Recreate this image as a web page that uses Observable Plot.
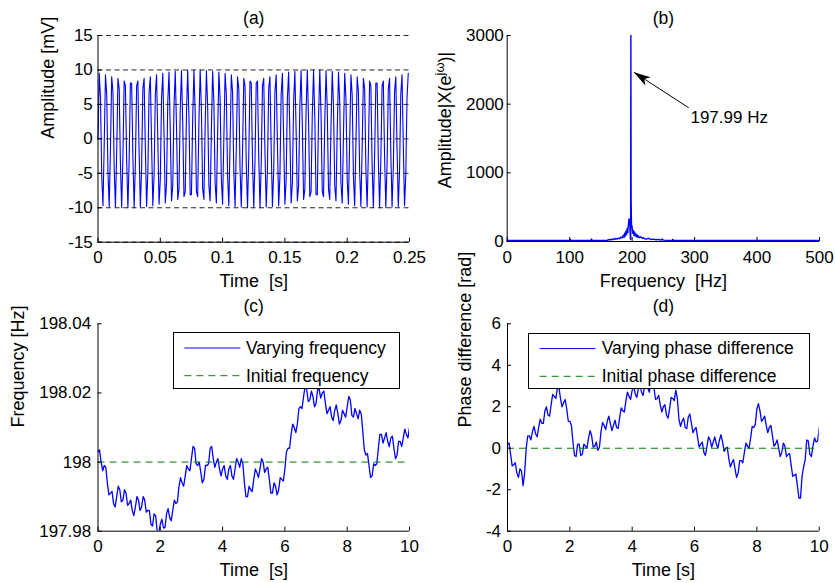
<!DOCTYPE html>
<html>
<head>
<meta charset="utf-8">
<script src="https://cdn.jsdelivr.net/npm/d3@7"></script>
<script src="https://cdn.jsdelivr.net/npm/@observablehq/plot@0.6"></script>
<style>
  body { margin: 0; background: #fff; font-family: "Liberation Sans", Arial, Helvetica, sans-serif; }
  #wrap { position: relative; width: 835px; height: 583px; overflow: hidden; background: #fff; }
  #wrap svg { overflow: visible; background: transparent !important; max-width: none !important; }
  .legend { position: absolute; background: #fff; border: 1px solid #000; box-sizing: border-box; }
  .lg-text { position: absolute; font-size: 17.5px; line-height: 20px; white-space: nowrap; color: #000; }
</style>
</head>
<body>
<div id="wrap"></div>
<script>
// ---------------- DATA ----------------
// (a) sampled signal, 1 kHz sampling, amplitude in mV
const sampleRate = 1000;
const signalA = [
  0, 9.5, 5.9, -5.4, -9.7,
  -0.6, 9.3, 6.4, -4.8, -9.8,
  -1.3, 9.0, 6.8, -4.3, -9.9,
  -1.9, 8.8, 7.3, -3.7, -10,
  -2.5, 8.4, 7.7, -3.1, -10,
  -3.1, 8.1, 8.1, -2.5, -10,
  -3.7, 7.7, 8.4, -1.9, -9.9,
  -4.3, 7.3, 8.8, -1.3, -9.8,
  -4.8, 6.8, 9.0, -0.6, -9.7,
  -5.4, 6.4, 9.3, 0, -9.5,
  -5.9, 5.9, 9.5, 0.6, -9.3,
  -6.4, 5.4, 9.7, 1.3, -9.0,
  -6.8, 4.8, 9.8, 1.9, -8.8,
  -7.3, 4.3, 9.9, 2.5, -8.4,
  -7.7, 3.7, 10, 3.1, -8.1,
  -8.1, 3.1, 10, 3.7, -7.7,
  -8.4, 2.5, 10, 4.3, -7.3,
  -8.8, 1.9, 9.9, 4.8, -6.8,
  -9.0, 1.3, 9.8, 5.4, -6.4,
  -9.3, 0.6, 9.7, 5.9, -5.9,
  -9.5, 0, 9.5, 6.4, -5.4,
  -9.7, -0.6, 9.3, 6.8, -4.8,
  -9.8, -1.3, 9.0, 7.3, -4.3,
  -9.9, -1.9, 8.8, 7.7, -3.7,
  -10, -2.5, 8.4, 8.1, -3.1,
  -10, -3.1, 8.1, 8.4, -2.5,
  -10, -3.7, 7.7, 8.8, -1.9,
  -9.9, -4.3, 7.3, 9.0, -1.3,
  -9.8, -4.8, 6.8, 9.3, -0.6,
  -9.7, -5.4, 6.4, 9.5, 0,
  -9.5, -5.9, 5.9, 9.7, 0.6,
  -9.3, -6.4, 5.4, 9.8, 1.3,
  -9.0, -6.8, 4.8, 9.9, 1.9,
  -8.8, -7.3, 4.3, 10, 2.5,
  -8.4, -7.7, 3.7, 10, 3.1,
  -8.1, -8.1, 3.1, 10, 3.7,
  -7.7, -8.4, 2.5, 9.9, 4.3,
  -7.3, -8.8, 1.9, 9.8, 4.8,
  -6.8, -9.0, 1.3, 9.7, 5.4,
  -6.4, -9.3, 0.6, 9.5, 5.9,
  -5.9, -9.5, 0, 9.3, 6.4,
  -5.4, -9.7, -0.6, 9.0, 6.8,
  -4.8, -9.8, -1.3, 8.8, 7.3,
  -4.3, -9.9, -1.9, 8.4, 7.7,
  -3.7, -10, -2.5, 8.1, 8.1,
  -3.1, -10, -3.1, 7.7, 8.4,
  -2.5, -10, -3.7, 7.3, 8.8,
  -1.9, -9.9, -4.3, 6.8, 9.0,
  -1.3, -9.8, -4.8, 6.4, 9.3,
  -0.6, -9.7, -5.4, 5.9, 9.5
];
const timeTicksA = [0, 0.05, 0.1, 0.15, 0.2, 0.25];
const ampTicks = [-15, -10, -5, 0, 5, 10, 15];

// (b) spectrum
const specFreq = [0, 50, 100, 101, 102, 134, 135, 136, 160, 162, 164, 166, 168, 170, 172, 174, 176, 178,
  180, 182, 184, 186, 187, 188, 189, 190, 191, 192, 193, 194, 195, 196, 196.6, 197.2, 197.7, 198, 198.4, 199,
  200, 201, 202, 203, 204, 205, 206, 207, 208, 209, 210, 212, 214, 216, 218, 220,
  223, 226, 230, 234, 238, 242, 246, 248, 250, 264, 265, 266, 300, 400, 500];
const specAmp = [15, 15, 15, 30, 15, 15, 35, 15, 15, 30, 20, 35, 25, 40, 30, 45, 35, 50,
  40, 65, 50, 90, 60, 120, 80, 150, 100, 190, 130, 240, 330, 310, 180, 40, 30, 3000, 600, 250,
  210, 120, 160, 90, 140, 80, 110, 70, 95, 60, 80, 55, 70, 45, 55, 40,
  35, 45, 30, 35, 25, 30, 20, 35, 20, 15, 30, 15, 15, 15, 15];
const freqTicks = [0, 100, 200, 300, 400, 500];
const specTicks = [0, 1000, 2000, 3000];
const peakLabel = ["197.99 Hz"];
const arrowTip = [202.7, 2466];
const arrowTail = [290.7, 1947];
const labelPos = [293.4, 1798];

// (c) varying frequency [Hz], 0.05 s step
const timeStep = 0.05;
const freqC = [
  198.003, 198.0035, 198.000, 197.9975, 197.999, 197.9985, 197.994, 197.9905, 197.991, 197.9915,
  197.988, 197.987, 197.990, 197.993, 197.992, 197.9885, 197.989, 197.992, 197.991, 197.9875,
  197.988, 197.989, 197.986, 197.9845, 197.987, 197.990, 197.989, 197.986, 197.987, 197.990,
  197.989, 197.9855, 197.986, 197.986, 197.982, 197.9815, 197.985, 197.9845, 197.980, 197.9795,
  197.982, 197.9835, 197.981, 197.981, 197.985, 197.9865, 197.984, 197.983, 197.986, 197.989,
  197.988, 197.9885, 197.993, 197.9955, 197.994, 197.993, 197.996, 197.999, 197.998, 197.9975,
  198.001, 198.0045, 198.004, 197.9995, 197.999, 198.000, 197.997, 197.994, 197.995, 197.999,
  197.999, 197.9995, 198.004, 198.0045, 198.001, 197.9985, 198.000, 198.001, 197.998, 197.996,
  197.998, 197.999, 197.996, 197.995, 197.998, 197.999, 197.996, 197.995, 197.998, 198.001,
  198.000, 197.9985, 198.001, 197.9995, 197.994, 197.990, 197.990, 197.993, 197.992, 197.9915,
  197.995, 197.998, 197.997, 197.9955, 197.998, 198.001, 198.000, 197.997, 197.998, 197.9985,
  197.995, 197.991, 197.991, 197.994, 197.993, 197.9905, 197.992, 197.9955, 197.995, 197.9945,
  197.998, 198.003, 198.004, 198.004, 198.008, 198.011, 198.010, 198.0085, 198.011, 198.0155,
  198.016, 198.0155, 198.019, 198.022, 198.021, 198.0175, 198.018, 198.0205, 198.019, 198.016,
  198.017, 198.021, 198.021, 198.0185, 198.020, 198.0205, 198.017, 198.014, 198.015, 198.016,
  198.013, 198.012, 198.015, 198.0165, 198.014, 198.011, 198.012, 198.015, 198.014, 198.013,
  198.016, 198.019, 198.018, 198.0135, 198.013, 198.0155, 198.014, 198.0125, 198.015, 198.014,
  198.009, 198.0035, 198.002, 198.0025, 197.999, 197.9955, 197.996, 197.9995, 197.999, 197.9995,
  198.004, 198.008, 198.008, 198.0055, 198.007, 198.0085, 198.006, 198.0045, 198.007, 198.0075,
  198.004, 198.001, 198.002, 198.006, 198.006, 198.0045, 198.007, 198.0095, 198.008, 198.007,
  198.010
];
const initialFrequency = [198];
const timeTicksC = [0, 2, 4, 6, 8, 10];
const freqTicksC = [197.98, 198, 198.02, 198.04];

// (d) varying phase difference [rad], 0.05 s step
const phaseD = [
  0.2, 0.25, -0.3, -0.85, -0.8, -0.7, -1.2, -1.4, -1.0, -1.1, -1.8, -1.2, 0.0, 0.6, 0.6, 0.4, 0.8, 1.05, 0.7, 0.55,
  1.0, 1.4, 1.2, 1.2, 1.8, 2.0, 1.6, 1.55, 2.1, 2.6, 2.5, 2.4, 2.9, 2.95, 2.4, 2.0, 2.2, 2.35, 1.9, 1.3,
  1.3, 1.1, 0.3, -0.35, -0.4, 0.2, 0.2, -0.35, -0.3, 0.2, 0.1, 0.0, 0.5, 0.85, 0.6, 0.05, 0.1, 0.3, -0.1, 0.05,
  0.8, 1.25, 1.1, 0.9, 1.3, 1.55, 1.2, 0.85, 1.1, 1.35, 1.0, 0.95, 1.5, 1.95, 1.8, 1.75, 2.3, 2.7, 2.5, 2.35,
  2.8, 3.0, 2.6, 2.45, 2.9, 3.1, 2.7, 2.55, 3.0, 3.25, 2.9, 2.7, 3.1, 3.3, 2.9, 2.35, 2.4, 2.55, 2.1, 1.75,
  2.0, 2.1, 1.6, 1.45, 1.9, 2.45, 2.4, 2.3, 2.8, 2.4, 1.4, 1.05, 1.3, 1.45, 1.0, 0.95, 1.5, 1.65, 1.2, 0.75,
  0.9, 1.0, 0.5, 0.05, 0.2, 0.3, -0.2, -0.35, 0.1, 0.55, 0.4, 0.05, 0.3, 0.55, 0.2, 0.0, 0.4, 0.65, 0.3, -0.15,
  0.0, 0.05, -0.5, -0.9, -0.7, -0.55, -1.0, -1.4, -1.2, -0.6, -0.6, -0.7, -0.2, 0.25, 0.1, 0.0, 0.5, 1.05, 1.0, 1.15,
  1.9, 2.15, 1.8, 1.3, 1.4, 1.55, 1.1, 0.75, 1.0, 1.1, 0.6, 0.1, 0.2, 0.4, 0.0, -0.4, -0.2, 0.25, 0.1, -0.4,
  -0.3, -0.25, -0.8, -1.35, -1.3, -1.25, -1.8, -2.4, -2.4, -1.35, -0.9, -0.55, 0.4, 0.35, -0.3, -0.4, 0.1, 0.5, 0.3, 0.35,
  1.0
];
const initialPhase = [0];
const phaseTicks = [-4, -2, 0, 2, 4, 6];

// ---------------- DRAWING ----------------
const wrap = document.getElementById("wrap");
const FONT = "'Liberation Sans', Arial, Helvetica, sans-serif";
const BLUE = "#0000ff";
const GREEN = "#008000";
const baseStyle = {fontFamily: FONT, fontSize: "17px", background: "transparent", overflow: "visible", color: "#000"};

function put(node, left, top) {
  node.style.position = "absolute";
  node.style.left = left + "px";
  node.style.top = top + "px";
  wrap.appendChild(node);
}

function frame({xTicks, yTicks, xFmt, yFmt, yPad, title, titleDy, xLabel, xLabelDy, yLabel, yLabelDx}) {
  const marks = [
    Plot.axisX({ticks: xTicks, tickSize: -4, tickFormat: () => "", label: null}),
    Plot.axisX({ticks: xTicks, tickSize: 0, tickPadding: 9, tickFormat: xFmt, label: null}),
    Plot.axisY({ticks: yTicks, tickSize: -4, tickFormat: () => "", label: null}),
    Plot.axisY({ticks: yTicks, tickSize: 0, tickPadding: yPad, tickFormat: yFmt, label: null}),
    Plot.ruleX([xTicks[0]], {stroke: "#000"}),
    Plot.ruleY([yTicks[0]], {stroke: "#000"}),
    Plot.text([title], {text: d => d, frameAnchor: "top", dy: titleDy, fontSize: 17.5, lineAnchor: "middle"}),
    Plot.text([xLabel], {text: d => d, frameAnchor: "bottom", dy: xLabelDy, fontSize: 18, lineAnchor: "middle"})
  ];
  if (yLabel) marks.push(Plot.text([yLabel], {text: d => d, frameAnchor: "left", dx: yLabelDx, rotate: -90, fontSize: 18, lineAnchor: "middle"}));
  return marks;
}

// (a)
const pa = Plot.plot({
  width: 417, height: 290, marginLeft: 97.5, marginRight: 8, marginTop: 35, marginBottom: 48.3,
  style: baseStyle,
  x: {domain: [0, 0.25]}, y: {domain: [-15, 15]},
  marks: [
    Plot.line(signalA, {x: (d, i) => i / sampleRate, y: d => d, stroke: BLUE, strokeWidth: 1.1}),
    Plot.gridY({ticks: ampTicks, stroke: "#000", strokeOpacity: 0.85, strokeDasharray: "5,3.5"}),
    ...frame({xTicks: timeTicksA, yTicks: ampTicks, xFmt: d => String(d), yFmt: d => String(d), yPad: 5.2,
      title: "(a)", titleDy: -17, xLabel: "Time\u00a0 [s]", xLabelDy: 39.3, yLabel: "Amplitude [mV]", yLabelDx: -49.5})
  ]
});
put(pa, 0, 0);

// (b)
const headAngle = Math.atan2(35.6, 55); // direction tip -> tail (screen)
const arrowHead = {
  draw(context) {
    const ux = Math.cos(headAngle), uy = Math.sin(headAngle);
    const px = -uy, py = ux;
    const L = 17, N = 12.5, W = 5;
    context.moveTo(0, 0);
    context.lineTo(L * ux + W * px, L * uy + W * py);
    context.lineTo(N * ux, N * uy);
    context.lineTo(L * ux - W * px, L * uy - W * py);
    context.closePath();
  }
};
const specData = specFreq.map((f, i) => ({f, a: specAmp[i]}));
const pb = Plot.plot({
  width: 418, height: 290, marginLeft: 89.7, marginRight: 16, marginTop: 35, marginBottom: 49,
  style: baseStyle,
  x: {domain: [0, 500]}, y: {domain: [0, 3000]},
  marks: [
    Plot.line(specData, {x: "f", y: "a", stroke: BLUE, strokeWidth: 1.4}),
    ...frame({xTicks: freqTicks, yTicks: specTicks, xFmt: d => String(d), yFmt: d => String(d), yPad: 3.4,
      title: "(b)", titleDy: -17, xLabel: "Frequency\u00a0 [Hz]", xLabelDy: 40, yLabel: null}),
    Plot.link([0], {x1: () => arrowTail[0], y1: () => arrowTail[1], x2: () => arrowTip[0], y2: () => arrowTip[1], stroke: "#000", strokeWidth: 1}),
    Plot.dot([0], {x: () => arrowTip[0], y: () => arrowTip[1], symbol: arrowHead, fill: "#000", stroke: "none", r: 5}),
    Plot.text(peakLabel, {text: d => d, x: () => labelPos[0], y: () => labelPos[1], textAnchor: "start", fontSize: 17})
  ]
});
// y label with superscript
const svgB = d3.select(pb);
const yl = svgB.append("text")
  .attr("transform", "translate(28,120) rotate(-90)")
  .attr("text-anchor", "middle")
  .attr("dy", "0.32em")
  .attr("font-size", 18)
  .attr("font-family", FONT)
  .attr("fill", "#000");
yl.append("tspan").text("Amplitude|X(e");
yl.append("tspan").attr("dy", -7).attr("font-size", 13).text("j\u03c9");
yl.append("tspan").attr("dy", 7).text(")|");
put(pb, 417, 0);

// (c)
const pc = Plot.plot({
  width: 417, height: 293, marginLeft: 97.5, marginRight: 8, marginTop: 33.3, marginBottom: 52.3,
  style: baseStyle,
  x: {domain: [0, 10]}, y: {domain: [197.98, 198.04]},
  marks: [
    Plot.line(freqC, {x: (d, i) => i * timeStep, y: d => d, stroke: BLUE, strokeWidth: 1.3, clip: true}),
    Plot.ruleY(initialFrequency, {stroke: GREEN, strokeDasharray: "7,5", strokeWidth: 1}),
    ...frame({xTicks: timeTicksC, yTicks: freqTicksC, xFmt: d => String(d), yFmt: d => String(+d.toFixed(2)), yPad: 6.8,
      title: "(c)", titleDy: -17.5, xLabel: "Time\u00a0 [s]", xLabelDy: 39.3, yLabel: "Frequency [Hz]", yLabelDx: -79.5})
  ]
});
put(pc, 0, 290);

// (d)
const pd = Plot.plot({
  width: 418, height: 293, marginLeft: 90, marginRight: 16.3, marginTop: 33.3, marginBottom: 52.3,
  style: baseStyle,
  x: {domain: [0, 10]}, y: {domain: [-4, 6]},
  marks: [
    Plot.line(phaseD, {x: (d, i) => i * timeStep, y: d => d, stroke: BLUE, strokeWidth: 1.3, clip: true}),
    Plot.ruleY(initialPhase, {stroke: GREEN, strokeDasharray: "7,5", strokeWidth: 1}),
    ...frame({xTicks: timeTicksC, yTicks: phaseTicks, xFmt: d => String(d), yFmt: d => String(d), yPad: 6.5,
      title: "(d)", titleDy: -17, xLabel: "Time [s]", xLabelDy: 39.3, yLabel: "Phase difference [rad]", yLabelDx: -42})
  ]
});
put(pd, 417, 290);

// ---------------- LEGENDS ----------------
function legend(box, sample, textX, entries) {
  const div = document.createElement("div");
  div.className = "legend";
  Object.assign(div.style, {left: box[0] + "px", top: box[1] + "px", width: box[2] + "px", height: box[3] + "px"});
  wrap.appendChild(div);
  const ns = "http://www.w3.org/2000/svg";
  const svg = document.createElementNS(ns, "svg");
  svg.setAttribute("width", box[2]); svg.setAttribute("height", box[3]);
  Object.assign(svg.style, {position: "absolute", left: "-1px", top: "-1px"});
  div.appendChild(svg);
  entries.forEach((e) => {
    const cy = e.y - box[1];
    const ln = document.createElementNS(ns, "line");
    ln.setAttribute("x1", sample[0] - box[0]); ln.setAttribute("x2", sample[1] - box[0]);
    ln.setAttribute("y1", cy); ln.setAttribute("y2", cy);
    ln.setAttribute("stroke", e.color); ln.setAttribute("stroke-width", 1);
    if (e.dash) ln.setAttribute("stroke-dasharray", e.dash);
    svg.appendChild(ln);
    const t = document.createElement("div");
    t.className = "lg-text";
    t.textContent = e.label;
    Object.assign(t.style, {left: (textX - box[0] - 1) + "px", top: (cy - 11) + "px"});
    div.appendChild(t);
  });
}
legend([172.7, 332.3, 227.3, 56.7], [184, 240], 246, [
  {label: "Varying frequency", color: BLUE, y: 348.3},
  {label: "Initial frequency", color: GREEN, dash: "7,5", y: 376}
]);
legend([528.3, 332.7, 281.7, 56.3], [540, 595.7], 601.7, [
  {label: "Varying phase difference", color: BLUE, y: 348.3},
  {label: "Initial phase difference", color: GREEN, dash: "7,5", y: 376}
]);
</script>
</body>
</html>
